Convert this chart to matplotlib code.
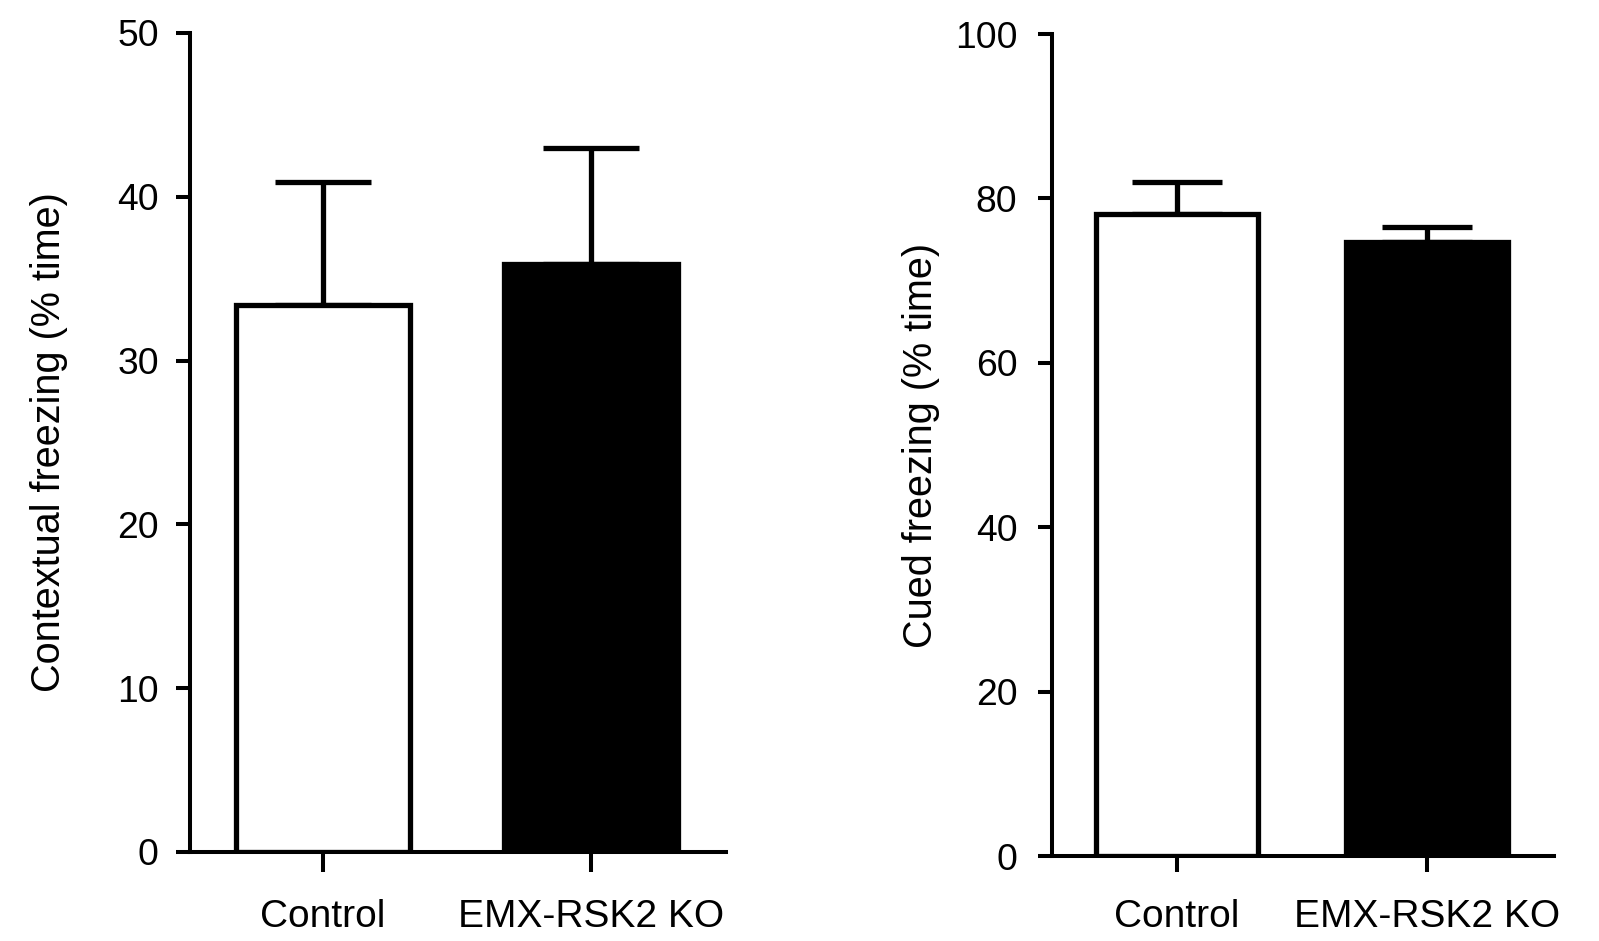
import matplotlib
matplotlib.use("Agg")
import matplotlib.pyplot as plt

plt.rcParams['font.family'] = ['Liberation Sans', 'DejaVu Sans']

groups = ["Control", "EMX-RSK2 KO"]
bar_colors = ["white", "black"]

# contextual freezing (% time): mean and upper SEM
ctx_mean = [33.4, 35.9]
ctx_sem = [7.5, 7.1]

# cued freezing (% time)
cued_mean = [78.1, 74.7]
cued_sem = [3.9, 1.8]


def draw_panel(ax, means, sems, ylim, yticks, ylabel, xlim, capsize,
               xtick_len, label_x, ypad):
    x = list(range(len(groups)))
    ax.bar(x, means, width=0.65, color=bar_colors, edgecolor="black",
           linewidth=3.8, zorder=2)
    # only the upper half of the error bar, Prism style
    ax.errorbar(x, means, yerr=[[0] * len(sems), sems], fmt="none",
                ecolor="black", elinewidth=3.8, capsize=capsize,
                capthick=3.8, zorder=1)
    ax.set_xlim(*xlim)
    ax.set_ylim(*ylim)
    ax.set_yticks(yticks)
    ax.set_xticks(x)
    ax.set_xticklabels(groups)
    ax.set_ylabel(ylabel, fontsize=28.5)
    ax.yaxis.set_label_coords(label_x, 0.5)
    for s in ["top", "right"]:
        ax.spines[s].set_visible(False)
    for s in ["left", "bottom"]:
        ax.spines[s].set_linewidth(2.9)
    ax.tick_params(axis="y", length=10, width=2.9, labelsize=26.8, pad=ypad)
    ax.tick_params(axis="x", length=xtick_len, width=2.9, labelsize=28,
                   pad=19.5)


fig = plt.figure(figsize=(15.99, 9.41), dpi=100)
ax1 = fig.add_axes([0.1188, 0.0946, 0.3352, 0.8704])
ax2 = fig.add_axes([0.6579, 0.0903, 0.3139, 0.8735])

draw_panel(ax1, ctx_mean, ctx_sem, (0, 50), [0, 10, 20, 30, 40, 50],
           "Contextual freezing (% time)", (-0.495, 1.505), 34.2, 14.4,
           -0.228, 12.5)
draw_panel(ax2, cued_mean, cued_sem, (0, 100), [0, 20, 40, 60, 80, 100],
           "Cued freezing (% time)", (-0.5, 1.508), 32.4, 11.5, -0.224, 15)

fig.savefig("out.png", dpi=100)
